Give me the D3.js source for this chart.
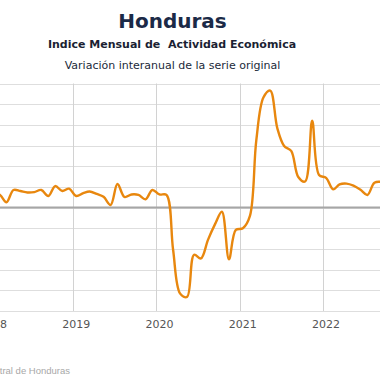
<!DOCTYPE html>
<html>
<head>
<meta charset="utf-8">
<script src="https://cdn.jsdelivr.net/npm/d3@7"></script>
<style>
  html, body { margin: 0; padding: 0; background: #fff; }
  svg { display: block; }
</style>
</head>
<body>
<div id="chart"></div>
<script>
// monthly series, Jan 2018 onwards (year-on-year %)
const startYear = 2018;
const imae = [
  3.5, 3.05, 1.3, 4.26, 4.0, 3.65, 3.75, 4.26, 2.8, 5.2, 4.0, 4.57,
  2.8, 3.5, 3.9, 3.3, 2.6, 0.63, 5.7, 2.56, 3.17, 3.05, 2.0, 4.26,
  3.17, 3.05, -10.2, -20.8, -21.6, -11.4, -12.3, -7.8, -4.0, -1.0, -12.5, -5.4,
  -5.0, -2.0, 16.3, 26.6, 28.3, 19.2, 14.9, 13.7, 7.4, 6.3, 21.0, 7.9,
  7.2, 4.4, 5.6, 5.8, 5.3, 4.3, 3.05, 6.0, 6.2, 5.5
];
const yearGrid = [2018, 2019, 2020, 2021, 2022, 2023];
const yearLabels = [2018, 2019, 2020, 2021, 2022];
const yTicks = [-25, -20, -15, -10, -5, 0, 5, 10, 15, 20, 25, 30];

const title = "Honduras";
const subtitle1 = "Indice Mensual de\u00a0 Actividad Económica";
const subtitle2 = "Variación interanual de la serie original";
const source = "Fuente: Banco Central de Honduras";

const width = 380, height = 380;
const font = "'DejaVu Sans', sans-serif";

const svg = d3.select('#chart').append('svg')
  .attr('width', width)
  .attr('height', height);

let data = imae.map((v, i) => ({
  date: new Date(startYear, i, 15),
  value: v
}));

// chart is wider than the window: left and right parts fall outside
let x = d3.scaleTime()
  .domain([new Date(2019, 0, 1), new Date(2022, 0, 1)])
  .range([73, 322.9]);

let y = d3.scaleLinear()
  .domain([-25, 30])
  .range([311, 83.5]);

// horizontal grid
svg.append('g')
  .selectAll('line')
  .data(yTicks)
  .enter().append('line')
  .attr('x1', -100)
  .attr('x2', width + 100)
  .attr('y1', d => Math.round(y(d)) + 0.5)
  .attr('y2', d => Math.round(y(d)) + 0.5)
  .attr('stroke', '#dedede')
  .attr('stroke-width', 1);

// vertical grid at year boundaries
svg.append('g')
  .selectAll('line')
  .data(yearGrid)
  .enter().append('line')
  .attr('x1', d => Math.round(x(new Date(d, 0, 1))) + 0.5)
  .attr('x2', d => Math.round(x(new Date(d, 0, 1))) + 0.5)
  .attr('y1', y(30))
  .attr('y2', y(-25))
  .attr('stroke', '#d2d2d2')
  .attr('stroke-width', 1);

// zero line
svg.append('line')
  .attr('x1', -100)
  .attr('x2', width + 100)
  .attr('y1', y(0))
  .attr('y2', y(0))
  .attr('stroke', '#a6a6a6')
  .attr('stroke-width', 2);

// year labels, centred on January
svg.append('g')
  .selectAll('text')
  .data(yearLabels)
  .enter().append('text')
  .attr('x', d => x(new Date(d, 0, 15)))
  .attr('y', 328)
  .attr('text-anchor', 'middle')
  .attr('font-family', font)
  .attr('font-size', 11)
  .attr('fill', '#555')
  .text(d => d);

let line = d3.line()
  .x(d => x(d.date))
  .y(d => y(d.value))
  .curve(d3.curveCatmullRom.alpha(0.5));

svg.append('path')
  .datum(data)
  .attr('d', line)
  .attr('fill', 'none')
  .attr('stroke', '#e8870e')
  .attr('stroke-width', 2.4)
  .attr('stroke-linejoin', 'round');

// titles
svg.append('text')
  .attr('x', 172.5)
  .attr('y', 28)
  .attr('text-anchor', 'middle')
  .attr('font-family', font)
  .attr('font-weight', 'bold')
  .attr('font-size', 20)
  .attr('fill', '#1b2a47')
  .text(title);

svg.append('text')
  .attr('x', 172)
  .attr('y', 47.5)
  .attr('text-anchor', 'middle')
  .attr('font-family', font)
  .attr('font-weight', 'bold')
  .attr('font-size', 11)
  .attr('fill', '#1b1f33')
  .text(subtitle1);

svg.append('text')
  .attr('x', 172.5)
  .attr('y', 68.5)
  .attr('text-anchor', 'middle')
  .attr('font-family', font)
  .attr('font-size', 11)
  .attr('fill', '#1b2a3a')
  .text(subtitle2);

svg.append('text')
  .attr('x', 70)
  .attr('y', 374)
  .attr('text-anchor', 'end')
  .attr('font-family', "'Liberation Sans', sans-serif")
  .attr('font-size', 9.5)
  .attr('fill', '#a8a8a8')
  .text(source);
</script>
</body>
</html>
